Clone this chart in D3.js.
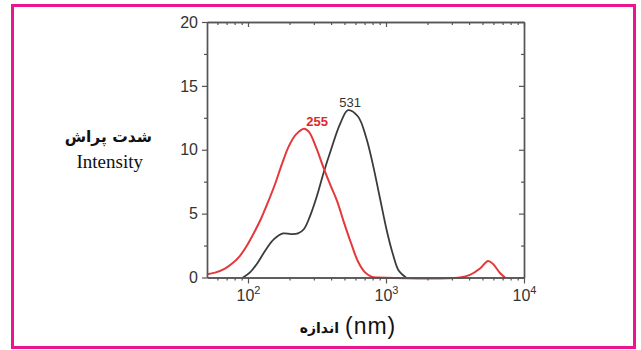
<!DOCTYPE html>
<html>
<head>
<meta charset="utf-8">
<script src="https://cdn.jsdelivr.net/npm/d3@7"></script>
<style>
  body { margin: 0; background: #fff; }
  svg { display: block; }
</style>
</head>
<body>
<div id="chart"></div>
<script>
// size (nm) vs intensity
const redSize = [50.5, 57.7, 68.1, 77.9, 87.5, 98.3, 110.5, 124.2, 139.6, 156.9, 176.4, 198.2, 222.8, 255, 276.7, 311.1, 349.6, 392.9, 441.6, 496.3, 557.8, 626.8, 704.5, 791.9, 875,
                 3435, 4060, 4800, 5490, 5975, 6700, 7280];
const redIntensity = [0.25, 0.38, 0.7, 1.15, 1.7, 2.5, 3.5, 4.6, 5.9, 7.3, 8.9, 10.3, 11.2, 11.65, 11.4, 10.2, 8.7, 7.3, 6.0, 4.3, 2.7, 1.25, 0.4, 0.05, 0,
                      0, 0.2, 0.7, 1.3, 1.05, 0.35, 0];
const blackSize = [92, 103.4, 118.2, 135, 154.3, 179.3, 204.9, 230.4, 254.6, 281.4, 316.2, 355.4, 399.5, 464.2, 531, 626.8, 716.4, 805.2, 904.4, 1016.7, 1123.8, 1242.4, 1396];
const blackIntensity = [0, 0.4, 1.2, 2.2, 3.0, 3.45, 3.4, 3.45, 3.8, 4.8, 6.4, 8.3, 10.0, 12.0, 13.1, 12.6, 11.0, 8.8, 6.2, 3.6, 1.8, 0.5, 0];
const yTicks = [0, 5, 10, 15, 20];
const xDecades = [2, 3, 4];
const peakLabels = [{ size: 255, value: 11.65, text: '255', color: '#e3262b', dx: 13 },
                    { size: 531, value: 13.1, text: '531', color: '#333', dx: 2 }];

const width = 641, height = 350;
const plotLeft = 207, plotRight = 524, plotTop = 22, plotBottom = 277.5;

const svg = d3.select('#chart').append('svg')
  .attr('width', width)
  .attr('height', height);

// pink frame
svg.append('rect')
  .attr('x', 12.5).attr('y', 5.5)
  .attr('width', 622).attr('height', 342)
  .attr('fill', 'none')
  .attr('stroke', '#ec1590')
  .attr('stroke-width', 3);

const x = d3.scaleLog().domain([10 ** (2 - (248 - plotLeft) / 138), 1e4]).range([plotLeft, plotRight]);
const y = d3.scaleLinear().domain([0, 20]).range([plotBottom, plotTop]);

const minorX = [];
for (let e = 1; e <= 3; e++) {
  for (let m = 2; m <= 9; m++) {
    const v = m * 10 ** e;
    if (v >= x.domain()[0] && v <= 1e4) minorX.push(v);
  }
}
const majorX = xDecades.map(e => 10 ** e);
const minorY = d3.range(2.5, 20, 5);

const line = d3.line()
  .x(d => x(d[0]))
  .y(d => Math.min(y(d[1]), plotBottom))
  .curve(d3.curveCatmullRom.alpha(0.5));

const plot = svg.append('g');
plot.append('path')
  .datum(d3.zip(blackSize, blackIntensity))
  .attr('d', line)
  .attr('fill', 'none')
  .attr('stroke', '#3b3b3b')
  .attr('stroke-width', 1.8);
plot.append('path')
  .datum(d3.zip(redSize, redIntensity))
  .attr('d', line)
  .attr('fill', 'none')
  .attr('stroke', '#e5383b')
  .attr('stroke-width', 2);

const axisColor = '#555';
function style(g) {
  g.select('.domain').attr('stroke', axisColor).attr('stroke-width', 1.4);
  g.selectAll('.tick line').attr('stroke', axisColor).attr('stroke-width', 1.2);
  g.selectAll('.tick text').attr('fill', '#333')
    .style('font-family', 'Liberation Sans, Arial, sans-serif');
}

// bottom axis: minor ticks then major
svg.append('g').attr('transform', `translate(0,${plotBottom})`)
  .call(d3.axisBottom(x).tickValues(minorX).tickSize(3).tickSizeOuter(0).tickFormat(''))
  .call(style);
const bx = svg.append('g').attr('transform', `translate(0,${plotBottom})`)
  .call(d3.axisBottom(x).tickValues(majorX).tickSize(6).tickSizeOuter(0).tickFormat(''))
  .call(style);
bx.selectAll('.tick').append('text')
  .attr('y', 23)
  .attr('text-anchor', 'middle')
  .attr('fill', '#333')
  .style('font-family', 'Liberation Sans, Arial, sans-serif')
  .style('font-size', '16px')
  .each(function (d) {
    const t = d3.select(this);
    t.append('tspan').text('10');
    t.append('tspan').attr('dy', -7).style('font-size', '11px').text(Math.round(Math.log10(d)));
  });

// top axis, ticks inward
svg.append('g').attr('transform', `translate(0,${plotTop})`)
  .call(d3.axisBottom(x).tickValues(minorX).tickSize(3).tickSizeOuter(0).tickFormat(''))
  .call(style);
svg.append('g').attr('transform', `translate(0,${plotTop})`)
  .call(d3.axisBottom(x).tickValues(majorX).tickSize(5).tickSizeOuter(0).tickFormat(''))
  .call(style);

// left axis
svg.append('g').attr('transform', `translate(${plotLeft},0)`)
  .call(d3.axisLeft(y).tickValues(minorY).tickSize(3).tickSizeOuter(0).tickFormat(''))
  .call(style);
svg.append('g').attr('transform', `translate(${plotLeft},0)`)
  .call(d3.axisLeft(y).tickValues(yTicks).tickSize(5).tickSizeOuter(0).tickPadding(4))
  .call(style)
  .selectAll('.tick text').style('font-size', '16px');

// right axis, ticks inward
svg.append('g').attr('transform', `translate(${plotRight},0)`)
  .call(d3.axisLeft(y).tickValues(minorY).tickSize(3).tickSizeOuter(0).tickFormat(''))
  .call(style);
svg.append('g').attr('transform', `translate(${plotRight},0)`)
  .call(d3.axisLeft(y).tickValues(yTicks).tickSize(5).tickSizeOuter(0).tickFormat(''))
  .call(style);

// peak labels
svg.selectAll('text.peak')
  .data(peakLabels)
  .enter()
  .append('text')
  .attr('class', 'peak')
  .attr('x', d => x(d.size) + d.dx)
  .attr('y', d => y(d.value) - 3)
  .attr('text-anchor', 'middle')
  .attr('fill', d => d.color)
  .style('font-family', 'Liberation Sans, Arial, sans-serif')
  .style('font-size', '13px')
  .style('font-weight', d => d.text === '255' ? 'bold' : 'normal')
  .text(d => d.text);

// y title
svg.append('text')
  .attr('x', 152).attr('y', 142)
  .attr('text-anchor', 'end')
  .style('font-family', 'DejaVu Sans, Noto Sans, sans-serif')
  .style('font-weight', 'bold')
  .style('font-size', '15.5px')
  .attr('fill', '#111')
  .text('شدت پراش');
svg.append('text')
  .attr('x', 143).attr('y', 168)
  .attr('text-anchor', 'end')
  .style('font-family', 'Liberation Serif, Times New Roman, serif')
  .style('font-size', '19px')
  .attr('fill', '#111')
  .text('Intensity');

// x title
svg.append('text')
  .attr('x', 339).attr('y', 333)
  .attr('text-anchor', 'end')
  .style('font-family', 'DejaVu Sans, Noto Sans, sans-serif')
  .style('font-weight', 'bold')
  .style('font-size', '14px')
  .attr('fill', '#111')
  .text('اندازه');
svg.append('text')
  .attr('x', 345).attr('y', 334)
  .attr('text-anchor', 'start')
  .style('font-family', 'Liberation Sans, Arial, sans-serif')
  .style('font-size', '23px')
  .style('letter-spacing', '1px')
  .attr('fill', '#111')
  .text('(nm)');
</script>
</body>
</html>
